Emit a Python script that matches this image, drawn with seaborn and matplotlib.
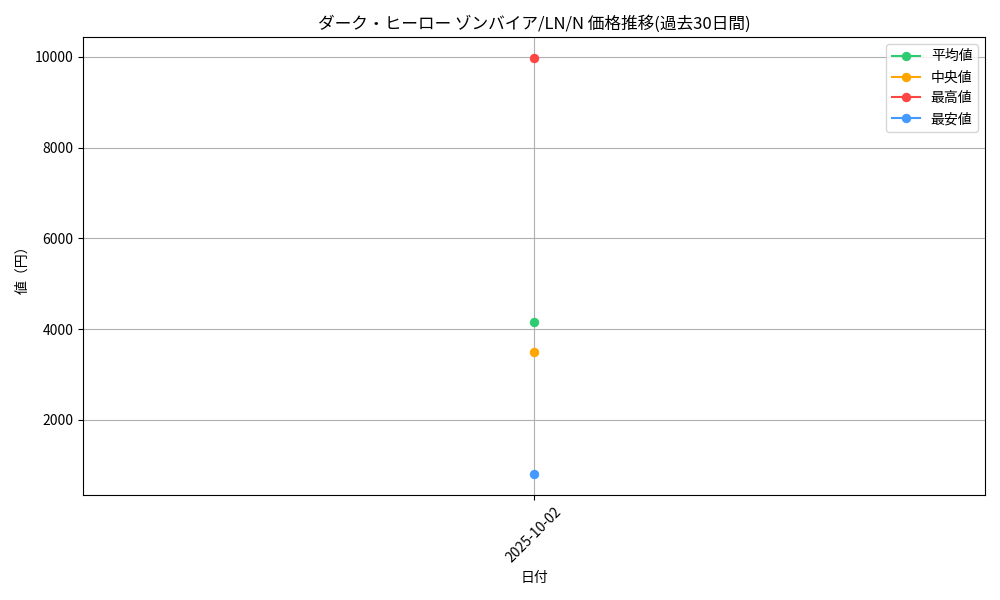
import pandas as pd
import matplotlib
matplotlib.use("Agg")
import matplotlib.pyplot as plt
import seaborn as sns

# data
dates = ["2025-10-02"]
avg_price = [4150]
median_price = [3500]
max_price = [9980]
min_price = [800]

series_names = ["平均値", "中央値", "最高値", "最安値"]
series_values = [avg_price, median_price, max_price, min_price]
series_colors = ["#2ECC71", "#FFA500", "#FF4444", "#4499FF"]

plt.rcParams['font.family'] = ['Noto Sans CJK JP', 'DejaVu Sans']

fig, ax = plt.subplots(figsize=(10, 6), dpi=100)

for name, vals, color in zip(series_names, series_values, series_colors):
    df = pd.DataFrame({"date": dates, "value": vals})
    sns.lineplot(data=df, x="date", y="value", marker="o", color=color,
                 markeredgecolor=color, markersize=6, label=name, ax=ax)

ax.set_title("ダーク・ヒーロー ゾンバイア/LN/N 価格推移(過去30日間)", fontsize=12)
ax.set_xlabel("日付")
ax.set_ylabel("値（円）")
ax.grid(True)
ax.legend(loc="upper right")
plt.xticks(rotation=45)
plt.tight_layout()
plt.savefig("out.png")
